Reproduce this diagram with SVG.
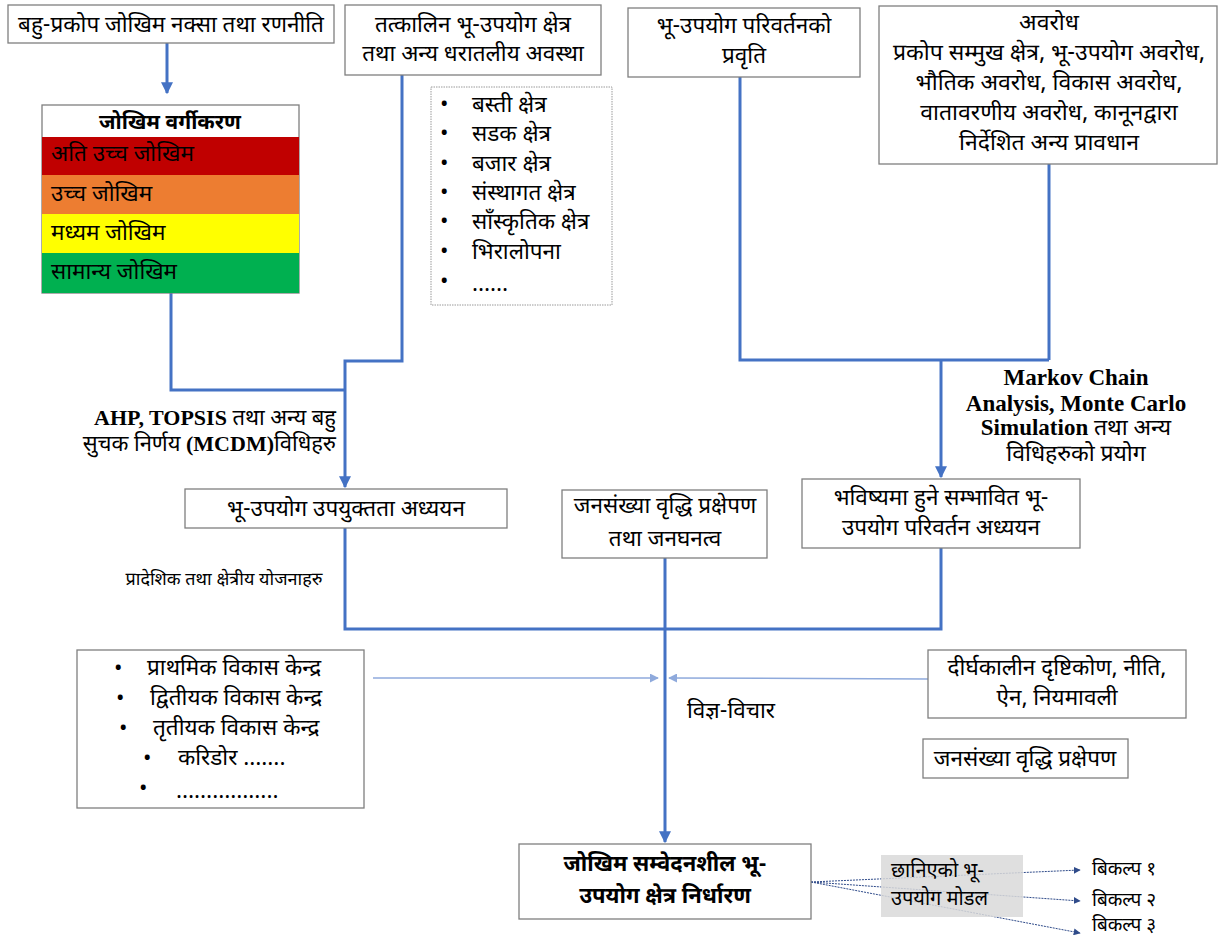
<svg xmlns="http://www.w3.org/2000/svg" width="1218" height="942" viewBox="0 0 1218 942">
<defs>
<style>
.t{font-family:"Noto Sans Devanagari","Noto Sans","Lohit Devanagari",sans-serif;font-size:22.5px;fill:#000}
.c{text-anchor:middle}
.b{font-weight:bold}
.box{fill:#fff;stroke:#7f7f7f;stroke-width:1.3}
.ln{fill:none;stroke:#4472c4;stroke-width:3}
.lt{fill:none;stroke:#8faadc;stroke-width:1.5}
.nv{fill:none;stroke:#2f4b8a;stroke-width:1;stroke-dasharray:2 1}
.lat{font-family:"Liberation Serif","Noto Sans Devanagari",serif;font-weight:bold;font-size:22.5px}
</style>
<marker id="ah" viewBox="0 0 10 10" refX="9" refY="5" markerWidth="4" markerHeight="4" orient="auto"><path d="M0,0L10,5L0,10z" fill="#4472c4"/></marker>
<marker id="ahl" viewBox="0 0 10 10" refX="9" refY="5" markerWidth="6" markerHeight="6" orient="auto"><path d="M0,0L10,5L0,10z" fill="#8faadc"/></marker>
<marker id="ahn" viewBox="0 0 10 10" refX="9" refY="5" markerWidth="7" markerHeight="7" orient="auto"><path d="M0,0L10,5L0,10z" fill="#2f4b8a"/></marker>
</defs>
<rect width="1218" height="942" fill="#fff"/>

<g id="connectors">
<line class="ln" x1="167" y1="43" x2="167" y2="93" marker-end="url(#ah)"/>
<polyline class="ln" points="171,293 171,390 345,390"/>
<polyline class="ln" points="402,75 402,361 345,361 345,487" marker-end="url(#ah)"/>
<polyline class="ln" points="740,77 740,360 1049,360"/>
<line class="ln" x1="1049" y1="164" x2="1049" y2="360"/>
<line class="ln" x1="941" y1="360" x2="941" y2="477" marker-end="url(#ah)"/>
<polyline class="ln" points="345,528 345,629 941,629 941,548"/>
<line class="ln" x1="665" y1="558" x2="665" y2="842" marker-end="url(#ah)"/>
<line class="lt" x1="373" y1="678" x2="658" y2="678" marker-end="url(#ahl)"/>
<line class="lt" x1="928" y1="679" x2="669" y2="678" marker-end="url(#ahl)"/>
<line class="nv" x1="811" y1="882" x2="1080" y2="870" marker-end="url(#ahn)"/>
<line class="nv" x1="811" y1="882" x2="1080" y2="901" marker-end="url(#ahn)"/>
<line class="nv" x1="811" y1="882" x2="1080" y2="933" marker-end="url(#ahn)"/>
</g>

<g id="nA"><rect class="box" x="8" y="5" width="326" height="38"/><text class="t c" x="171" y="32">बहु-प्रकोप जोखिम नक्सा तथा रणनीति</text></g>

<g id="nRisk">
<rect x="42" y="105" width="257" height="188" fill="#fff" stroke="#7f7f7f" stroke-width="1.3"/>
<rect x="42" y="137" width="257" height="38" fill="#c00000"/>
<rect x="42" y="175" width="257" height="39" fill="#ed7d31"/>
<rect x="42" y="214" width="257" height="39" fill="#ffff00"/>
<rect x="42" y="253" width="257" height="40" fill="#00b050"/>
<text class="t c b" x="170" y="129" style="font-size:21px">जोखिम वर्गीकरण</text>
<text class="t" x="51" y="161">अति उच्च जोखिम</text>
<text class="t" x="51" y="201">उच्च जोखिम</text>
<text class="t" x="51" y="240">मध्यम जोखिम</text>
<text class="t" x="51" y="279">सामान्य जोखिम</text>
</g>

<g id="nB"><rect class="box" x="345" y="5" width="256" height="70"/>
<text class="t c" x="473" y="32">तत्कालिन भू-उपयोग क्षेत्र</text>
<text class="t c" x="473" y="61">तथा अन्य धरातलीय अवस्था</text></g>

<g id="nList"><rect x="431" y="87" width="181" height="218" fill="#fff" stroke="#9a9a9a" stroke-width="1" stroke-dasharray="1.5 1"/>
<g class="t">
<text x="440" y="111">•</text><text x="472" y="112">बस्ती क्षेत्र</text>
<text x="440" y="140">•</text><text x="472" y="141">सडक क्षेत्र</text>
<text x="440" y="170">•</text><text x="472" y="171">बजार क्षेत्र</text>
<text x="440" y="199">•</text><text x="472" y="200">संस्थागत क्षेत्र</text>
<text x="440" y="228">•</text><text x="472" y="229">साँस्कृतिक क्षेत्र</text>
<text x="440" y="258">•</text><text x="472" y="259">भिरालोपना</text>
<text x="440" y="288">•</text><text x="472" y="291">……</text>
</g></g>

<g id="nC"><rect class="box" x="628" y="8" width="232" height="69"/>
<text class="t c" x="744" y="33">भू-उपयोग परिवर्तनको</text>
<text class="t c" x="744" y="63">प्रवृति</text></g>

<g id="nD"><rect class="box" x="879" y="6" width="338" height="158"/>
<g class="t c" style="font-size:23px">
<text x="1049" y="30">अवरोध</text>
<text x="1049" y="60">प्रकोप सम्मुख क्षेत्र, भू-उपयोग अवरोध,</text>
<text x="1049" y="90">भौतिक अवरोध, विकास अवरोध,</text>
<text x="1049" y="120">वातावरणीय अवरोध, कानूनद्वारा</text>
<text x="1049" y="150">निर्देशित अन्य प्रावधान</text>
</g></g>

<g id="lblAHP" class="lat" text-anchor="end" style="font-size:22px">
<text x="336" y="425">AHP, TOPSIS <tspan font-weight="normal">तथा अन्य बहु</tspan></text>
<text x="336" y="451"><tspan font-weight="normal">सुचक निर्णय </tspan>(MCDM)<tspan font-weight="normal">विधिहरु</tspan></text>
</g>

<g id="lblMarkov" class="lat" text-anchor="middle" style="font-size:23px">
<text x="1076" y="385">Markov Chain</text>
<text x="1076" y="411">Analysis, Monte Carlo</text>
<text x="1076" y="435">Simulation <tspan font-weight="normal">तथा अन्य</tspan></text>
<text x="1076" y="461" font-weight="normal">विधिहरुको प्रयोग</text>
</g>

<g id="nE"><rect class="box" x="185" y="489" width="322" height="39"/><text class="t c" x="346" y="516">भू-उपयोग उपयुक्तता अध्ययन</text></g>

<g id="nF"><rect class="box" x="562" y="490" width="205" height="68"/>
<text class="t c" x="665" y="513">जनसंख्या वृद्धि प्रक्षेपण</text>
<text class="t c" x="665" y="546">तथा जनघनत्व</text></g>

<g id="nG"><rect class="box" x="802" y="479" width="278" height="69"/>
<text class="t c" x="941" y="505">भविष्यमा हुने सम्भावित भू-</text>
<text class="t c" x="941" y="535">उपयोग परिवर्तन अध्ययन</text></g>

<text class="t c" x="224" y="585" style="font-size:18px">प्रादेशिक तथा क्षेत्रीय योजनाहरु</text>

<g id="nH"><rect class="box" x="77" y="650" width="287" height="158"/>
<g class="t">
<text x="114" y="675">•</text><text x="147" y="675">प्राथमिक विकास केन्द्र</text>
<text x="116" y="705">•</text><text x="150" y="705">द्वितीयक विकास केन्द्र</text>
<text x="119" y="735">•</text><text x="153" y="735">तृतीयक विकास केन्द्र</text>
<text x="143" y="765">•</text><text x="178" y="765">करिडोर …….</text>
<text x="139" y="795">•</text><text x="176" y="798">……………..</text>
</g></g>

<text class="t" x="687" y="718">विज्ञ-विचार</text>

<g id="nI"><rect class="box" x="928" y="650" width="258" height="68"/>
<text class="t c" x="1057" y="675">दीर्घकालीन दृष्टिकोण, नीति,</text>
<text class="t c" x="1057" y="705">ऐन, नियमावली</text></g>

<g id="nJ"><rect class="box" x="923" y="739" width="205" height="39"/>
<text class="t c" x="1025" y="766">जनसंख्या वृद्धि प्रक्षेपण</text></g>

<g id="nK"><rect class="box" x="519" y="844" width="292" height="75"/>
<text class="t c b" x="665" y="871" style="font-size:22px">जोखिम सम्वेदनशील भू-</text>
<text class="t c b" x="665" y="903" style="font-size:22px">उपयोग क्षेत्र निर्धारण</text></g>

<g id="nModel"><rect x="881" y="855" width="142" height="62" fill="#d9d9d9" fill-opacity="0.85"/>
<text class="t" x="891" y="877" style="font-size:20px">छानिएको भू-</text>
<text class="t" x="891" y="905" style="font-size:20px">उपयोग मोडल</text></g>

<g id="opts" class="t" style="font-size:19px">
<text x="1092" y="875">बिकल्प १</text>
<text x="1092" y="906">बिकल्प २</text>
<text x="1092" y="931">बिकल्प ३</text>
</g>
</svg>
